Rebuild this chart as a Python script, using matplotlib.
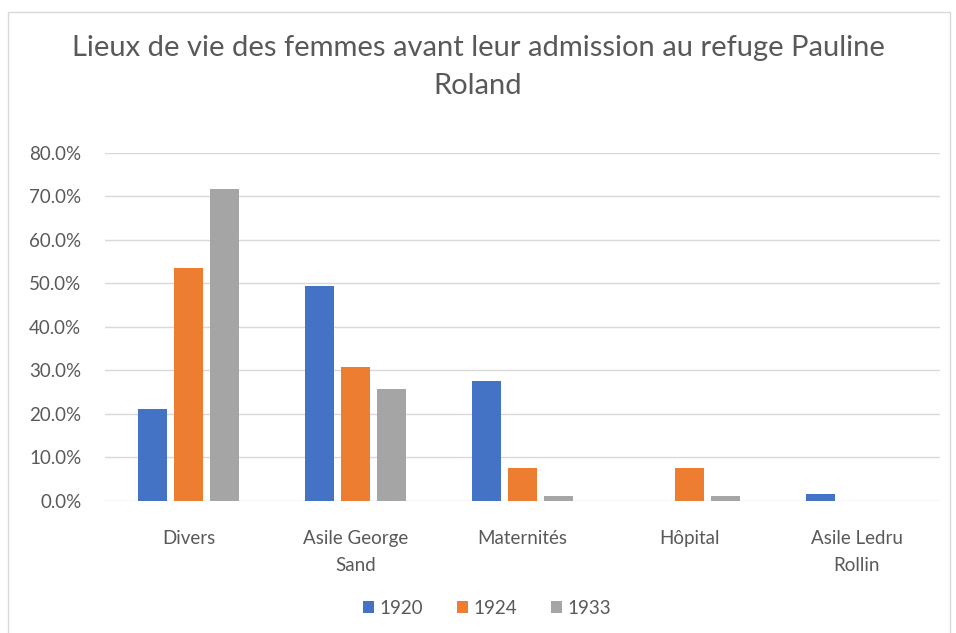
import numpy as np
import matplotlib.pyplot as plt
from matplotlib.patches import Rectangle
from matplotlib.ticker import PercentFormatter

plt.rcParams['font.family'] = ['Lato', 'DejaVu Sans']

categories = ['Divers', 'Asile George\nSand', 'Maternités', 'Hôpital', 'Asile Ledru\nRollin']
years = ['1920', '1924', '1933']
v1920 = [0.210, 0.494, 0.276, 0.0, 0.016]
v1924 = [0.536, 0.308, 0.076, 0.076, 0.0]
v1933 = [0.717, 0.257, 0.010, 0.011, 0.0]
colors = ['#4472c4', '#ed7d31', '#a5a5a5']
grey = '#595959'

fig = plt.figure(figsize=(9.56, 6.33), dpi=100)
# cadre du graphique
fig.patches.append(Rectangle((8 / 956, -0.05), 942 / 956, 1 - 12 / 633 + 0.05,
                             transform=fig.transFigure, fill=False, edgecolor='#d9d9d9', lw=1))

ax = fig.add_axes([105 / 956, 1 - 500.7 / 633, 835 / 956, 348 / 633])
x = np.arange(len(categories))
step = 0.216
width = 0.174
for k, (vals, lab) in enumerate(zip([v1920, v1924, v1933], years)):
    ax.bar(x + (k - 1) * step, vals, width, color=colors[k], label=lab, zorder=3)

ax.set_xlim(-0.5, len(categories) - 0.5)
ax.set_ylim(0, 0.8)
ax.set_yticks(np.arange(0, 0.81, 0.1))
ax.yaxis.set_major_formatter(PercentFormatter(1.0, decimals=1))
ax.grid(axis='y', color='#d9d9d9', lw=1, zorder=0)
for s in ax.spines.values():
    s.set_visible(False)
ax.tick_params(axis='both', length=0, colors=grey, labelsize=13.5)
ax.tick_params(axis='y', pad=17)
ax.tick_params(axis='x', pad=21)
ax.set_xticks(x)
ax.set_xticklabels(categories, linespacing=1.75)

fig.text(478 / 956, 1 - 48 / 633, 'Lieux de vie des femmes avant leur admission au refuge Pauline',
         ha='center', va='center', fontsize=21, color=grey)
fig.text(478 / 956, 1 - 86 / 633, 'Roland', ha='center', va='center', fontsize=21, color=grey)

leg = fig.legend(loc='center', bbox_to_anchor=(487 / 956, 1 - 608 / 633), ncol=3, frameon=False,
                 fontsize=13.5, handlelength=0.6, handleheight=0.6, handletextpad=0.3, columnspacing=1.8)
for t in leg.get_texts():
    t.set_color(grey)

fig.savefig('out.png', dpi=100)
